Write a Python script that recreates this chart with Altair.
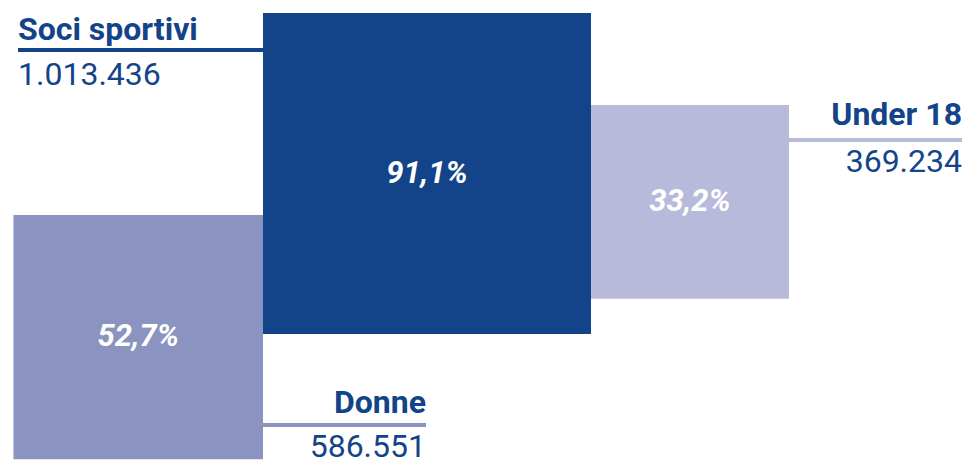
import math
import altair as alt
import pandas as pd

# ---- data ----
categories = ["Soci sportivi", "Donne", "Under 18"]
values = [1013436, 586551, 369234]
pct_labels = ["91,1%", "52,7%", "33,2%"]
value_labels = ["1.013.436", "586.551", "369.234"]
colors = ["#13448a", "#8b93c0", "#b7badb"]

# ---- layout (chart pixel space) ----
W, H = 954, 453
kx = 328 / math.sqrt(max(values))
ky = 321 / math.sqrt(max(values))
sx = [kx * math.sqrt(v) for v in values]
sy = [ky * math.sqrt(v) for v in values]

main_x0, main_y0 = 255, 5
tops = [main_y0, 207, 97]
lefts = [main_x0, main_x0 - sx[1], main_x0 + sx[0]]

rects = pd.DataFrame({
    "cat": categories,
    "x": lefts,
    "x2": [lefts[i] + sx[i] for i in range(3)],
    "y": tops,
    "y2": [min(tops[i] + sy[i], H) for i in range(3)],
    "color": colors,
    "pct": pct_labels,
})
rects["cx"] = (rects["x"] + rects["x2"]) / 2
rects["cy"] = [tops[i] + sy[i] / 2 for i in range(3)]

xs = alt.Scale(domain=[0, W], range=[0, W], nice=False, zero=False)
ys = alt.Scale(domain=[0, H], range=[0, H], nice=False, zero=False)

def X(f):
    return alt.X(f, type="quantitative", scale=xs, axis=None)

def Y(f):
    return alt.Y(f, type="quantitative", scale=ys, axis=None)

squares = alt.Chart(rects).mark_rect().encode(
    x=X("x"), x2="x2", y=Y("y"), y2="y2",
    color=alt.Color("color:N", scale=None),
)

pcts = alt.Chart(rects).mark_text(
    font="Roboto", fontSize=31, fontWeight="bold", fontStyle="italic",
    color="white", align="center", baseline="middle",
).encode(x=X("cx"), y=Y("cy"), text="pct:N")

ann = pd.DataFrame({
    "title": categories,
    "val": value_labels,
    "tx": [10, 418, W],
    "ty": [32, 405, 117],
    "ry": [42, 417, 132],
    "vy": [77, 449, 164],
    "rx": [10, main_x0, lefts[2] + sx[2]],
    "rx2": [main_x0, 418, W],
    "color": [colors[0], colors[1], colors[2]],
    "align": ["left", "right", "right"],
})

layers = [squares, pcts]
rules = alt.Chart(ann).mark_rule(strokeWidth=4).encode(
    x=X("rx"), x2="rx2", y=Y("ry"), color=alt.Color("color:N", scale=None)
)
layers.append(rules)
for al in ["left", "right"]:
    sub = ann[ann["align"] == al]
    layers.append(alt.Chart(sub).mark_text(
        font="Roboto", fontSize=32, fontWeight="bold", color=colors[0],
        align=al, baseline="alphabetic",
    ).encode(x=X("tx"), y=Y("ty"), text="title:N"))
    layers.append(alt.Chart(sub).mark_text(
        font="Roboto", fontSize=32, fontWeight="normal", color=colors[0],
        align=al, baseline="alphabetic",
    ).encode(x=X("tx"), y=Y("vy"), text="val:N"))

chart = alt.layer(*layers).properties(
    width=W, height=H, autosize=alt.AutoSizeParams(type="none"), padding=0,
).configure_view(stroke=None)

chart.save("out.html", embed_options={"renderer": "svg", "actions": False})
